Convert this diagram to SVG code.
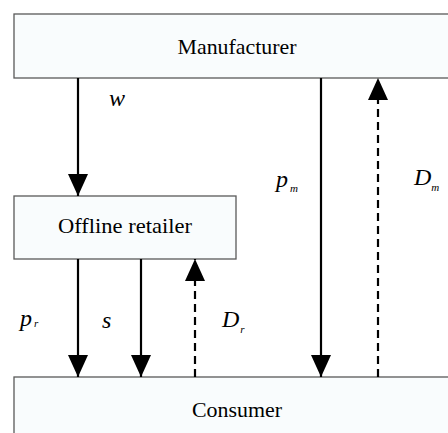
<svg xmlns="http://www.w3.org/2000/svg" width="448" height="433" viewBox="0 0 448 433">
<defs>
<style>
.box{fill:#f9fcfd;stroke:#595959;stroke-width:1.3}
.lbl{font-size:21px;fill:#000;text-anchor:middle}
.var{font-style:italic;font-size:24px;fill:#000}
.sub{font-size:11px}
.flow{stroke:#000;stroke-width:2.2;fill:none}
.dash{stroke-dasharray:8 5}
</style>
<marker id="ah" markerUnits="userSpaceOnUse" markerWidth="22" markerHeight="20" refX="22" refY="10" orient="auto" viewBox="0 0 22 20">
<path d="M0,0 L22,10 L0,20 Z" fill="#000"/>
</marker>
</defs>
<rect width="448" height="433" fill="#fff"/>
<g font-family="Liberation Serif, Times New Roman, serif">
<g id="manufacturer">
<rect class="box" x="14" y="14" width="440" height="64"/>
<text class="lbl" x="237" y="54" textLength="119" lengthAdjust="spacingAndGlyphs">Manufacturer</text>
</g>
<g id="retailer">
<rect class="box" x="14" y="196" width="222" height="63"/>
<text class="lbl" x="125" y="233" textLength="134" lengthAdjust="spacingAndGlyphs">Offline retailer</text>
</g>
<g id="consumer">
<rect class="box" x="14" y="377" width="440" height="60"/>
<text class="lbl" x="237" y="417" textLength="90" lengthAdjust="spacingAndGlyphs">Consumer</text>
</g>
<g id="connectors">
<line class="flow" x1="78" y1="78" x2="78" y2="196" marker-end="url(#ah)"/>
<line class="flow" x1="78" y1="259" x2="78" y2="377" marker-end="url(#ah)"/>
<line class="flow" x1="141" y1="259" x2="141" y2="377" marker-end="url(#ah)"/>
<line class="flow dash" x1="195" y1="377" x2="195" y2="259" marker-end="url(#ah)"/>
<line class="flow" x1="321" y1="78" x2="321" y2="377" marker-end="url(#ah)"/>
<line class="flow dash" x1="378" y1="377" x2="378" y2="78" marker-end="url(#ah)"/>
</g>
<g id="labels">
<text class="var" x="109" y="106">w</text>
<text class="var" x="20" y="326">p<tspan class="sub" dx="2" dy="1">r</tspan></text>
<text class="var" x="102" y="328">s</text>
<text class="var" x="222" y="327">D<tspan class="sub" dx="1" dy="6">r</tspan></text>
<text class="var" x="276" y="187">p<tspan class="sub" dx="2" dy="5">m</tspan></text>
<text class="var" x="414" y="185">D<tspan class="sub" dx="0" dy="6">m</tspan></text>
</g>
</g>
</svg>
